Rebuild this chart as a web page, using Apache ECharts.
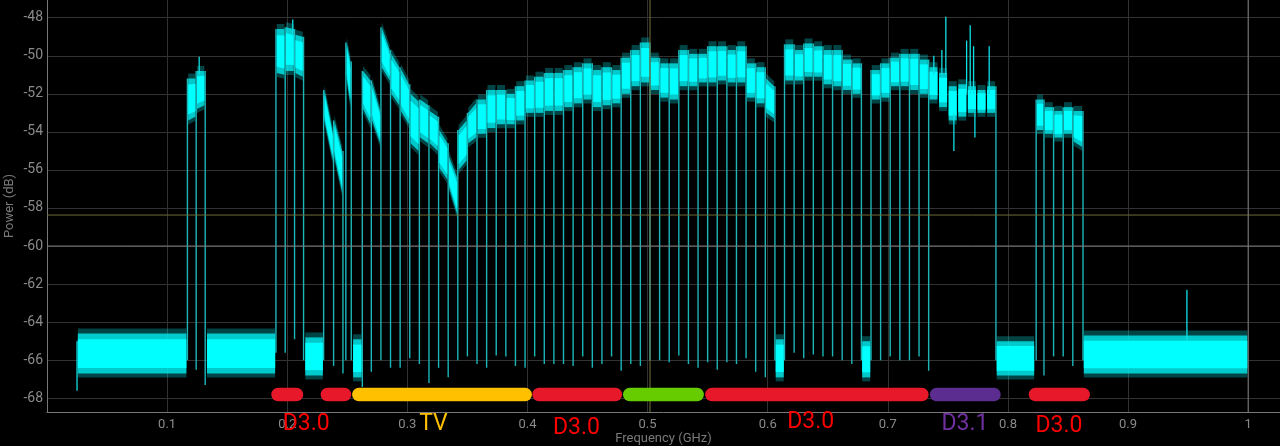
<!DOCTYPE html>
<html><head><meta charset="utf-8">
<script src="https://cdn.jsdelivr.net/npm/echarts@6/dist/echarts.min.js"></script>
<style>html,body{margin:0;padding:0;background:#000;overflow:hidden}#c{width:1280px;height:446px}</style>
</head><body><div id="c"></div>
<script>
// ---------------- DATA ----------------
// noise floor stretches: [fStart GHz, fEnd GHz, top dB, bottom dB]
const noiseFloor = [
  [0.025, 0.1167, -64.6, -66.7],
  [0.1325, 0.1906, -64.6, -66.7],
  [0.2144, 0.2303, -64.8, -66.8],
  [0.2542, 0.2625, -64.9, -66.9],
  [0.606, 0.614, -64.9, -66.9],
  [0.678, 0.686, -65.0, -66.9],
  [0.790, 0.8225, -65.0, -66.8],
  [0.8625, 1.0, -64.7, -66.7]
];
// carriers: [fStart, fEnd, top at start, top at end, bottom at start, bottom at end] (dB)
const carriers = [
  [0.1169, 0.1242, -51.2, -51.2, -53.4, -53.2],
  [0.1242, 0.1317, -50.8, -50.8, -52.8, -52.6],
  [0.1906, 0.1983, -48.6, -48.6, -50.9, -51.0],
  [0.1983, 0.2061, -48.5, -48.6, -50.8, -50.8],
  [0.2061, 0.2136, -48.9, -49.0, -50.9, -51.1],
  [0.2303, 0.2386, -51.8, -54.0, -53.4, -55.5],
  [0.2386, 0.2464, -53.4, -55.0, -55.3, -57.2],
  [0.2488, 0.2533, -49.3, -50.3, -51.2, -52.6],
  [0.2625, 0.270, -50.8, -51.3, -52.8, -53.6],
  [0.270, 0.278, -51.4, -52.9, -53.4, -54.6],
  [0.278, 0.286, -48.5, -49.7, -50.6, -51.3],
  [0.286, 0.294, -49.9, -50.6, -52.0, -52.6],
  [0.294, 0.302, -50.7, -51.5, -52.9, -53.6],
  [0.302, 0.310, -52.0, -52.4, -54.6, -55.0],
  [0.310, 0.318, -52.3, -52.6, -54.3, -54.6],
  [0.318, 0.326, -52.9, -53.2, -54.6, -55.0],
  [0.326, 0.334, -53.9, -54.6, -55.9, -56.5],
  [0.334, 0.342, -55.3, -56.4, -56.9, -58.3],
  [0.342, 0.350, -53.9, -53.4, -56.0, -55.5],
  [0.350, 0.358, -53.0, -52.5, -54.6, -54.3],
  [0.358, 0.366, -52.3, -52.3, -54.1, -54.1],
  [0.366, 0.374, -51.8, -51.8, -53.8, -53.8],
  [0.374, 0.382, -51.8, -51.8, -53.6, -53.6],
  [0.382, 0.390, -52.0, -52.0, -53.6, -53.6],
  [0.390, 0.398, -51.6, -51.6, -53.4, -53.4],
  [0.398, 0.406, -51.3, -51.3, -53.0, -53.0],
  [0.406, 0.414, -51.1, -51.1, -53.0, -53.0],
  [0.414, 0.422, -50.9, -50.9, -52.9, -52.9],
  [0.422, 0.430, -50.9, -50.9, -52.9, -52.9],
  [0.430, 0.438, -50.75, -50.75, -52.7, -52.7],
  [0.438, 0.446, -50.6, -50.6, -52.5, -52.5],
  [0.446, 0.454, -50.4, -50.4, -52.3, -52.3],
  [0.454, 0.462, -50.75, -50.75, -52.7, -52.7],
  [0.462, 0.470, -50.6, -50.6, -52.6, -52.6],
  [0.470, 0.478, -50.75, -50.75, -52.5, -52.5],
  [0.478, 0.486, -50.1, -50.1, -52.0, -52.0],
  [0.486, 0.494, -49.7, -49.7, -51.6, -51.6],
  [0.494, 0.502, -49.3, -49.3, -51.4, -51.4],
  [0.502, 0.510, -50.1, -50.1, -51.8, -51.8],
  [0.510, 0.518, -50.4, -50.4, -52.2, -52.2],
  [0.518, 0.526, -50.4, -50.4, -52.3, -52.3],
  [0.526, 0.534, -49.7, -49.7, -51.6, -51.6],
  [0.534, 0.542, -49.9, -49.9, -51.6, -51.6],
  [0.542, 0.550, -49.9, -49.9, -51.4, -51.4],
  [0.550, 0.558, -49.5, -49.5, -51.4, -51.4],
  [0.558, 0.566, -49.5, -49.5, -51.3, -51.3],
  [0.566, 0.574, -49.7, -49.7, -51.4, -51.4],
  [0.574, 0.582, -49.5, -49.5, -51.4, -51.4],
  [0.582, 0.590, -50.4, -50.4, -52.2, -52.2],
  [0.590, 0.598, -50.6, -50.6, -52.5, -52.5],
  [0.598, 0.606, -51.2, -51.6, -53.0, -53.3],
  [0.614, 0.622, -49.4, -49.4, -51.3, -51.3],
  [0.622, 0.630, -49.7, -49.7, -51.3, -51.3],
  [0.630, 0.638, -49.35, -49.35, -51.1, -51.1],
  [0.638, 0.646, -49.5, -49.5, -51.1, -51.1],
  [0.646, 0.654, -49.7, -49.7, -51.5, -51.5],
  [0.654, 0.662, -49.7, -49.7, -51.6, -51.6],
  [0.662, 0.670, -50.2, -50.2, -51.8, -51.8],
  [0.670, 0.678, -50.4, -50.4, -52.0, -52.0],
  [0.686, 0.694, -50.75, -50.75, -52.3, -52.3],
  [0.694, 0.702, -50.4, -50.4, -52.2, -52.2],
  [0.702, 0.710, -50.1, -50.1, -51.6, -51.6],
  [0.710, 0.718, -49.9, -49.9, -51.6, -51.6],
  [0.718, 0.726, -49.9, -49.9, -51.8, -51.8],
  [0.726, 0.734, -50.2, -50.2, -52.0, -52.0],
  [0.734, 0.742, -50.6, -50.6, -52.3, -52.3],
  [0.742, 0.750, -50.9, -50.9, -52.7, -52.7],
  [0.750, 0.758, -51.6, -51.6, -53.4, -53.4],
  [0.758, 0.766, -51.5, -51.5, -53.2, -53.2],
  [0.766, 0.774, -51.6, -51.6, -53.0, -53.0],
  [0.774, 0.782, -51.8, -51.8, -53.0, -53.0],
  [0.782, 0.790, -51.6, -51.6, -53.0, -53.0],
  [0.8235, 0.830, -52.3, -52.3, -53.9, -53.9],
  [0.830, 0.838, -52.7, -52.7, -54.1, -54.1],
  [0.838, 0.846, -52.9, -52.9, -54.3, -54.3],
  [0.846, 0.854, -52.7, -52.7, -54.1, -54.1],
  [0.854, 0.8625, -52.9, -52.9, -54.5, -54.8]
];
// gaps between carriers: [freq GHz, lowest dB reached]
const dips = [
  [0.1169,-66.0],[0.1242,-66.5],[0.1317,-67.3],
  [0.1906,-65.6],[0.1983,-65.6],[0.2061,-64.9],[0.2136,-66.0],
  [0.2303,-66.0],[0.2386,-66.3],[0.2464,-66.7],[0.2488,-66.0],[0.2533,-66.0],
  [0.2625,-67.4],[0.270,-66.6],[0.278,-66.0],[0.286,-66.4],[0.294,-66.4],[0.302,-65.9],
  [0.310,-66.2],[0.318,-67.2],[0.326,-66.4],[0.334,-66.9],[0.342,-66.0],[0.350,-65.8],
  [0.358,-66.2],[0.366,-66.4],[0.374,-65.75],[0.382,-65.8],[0.390,-66.3],[0.398,-66.4],
  [0.406,-65.8],[0.414,-66.2],[0.422,-66.2],[0.430,-66.2],[0.438,-66.3],[0.446,-65.8],
  [0.454,-66.4],[0.462,-66.2],[0.470,-65.8],[0.478,-66.55],[0.486,-66.2],[0.494,-66.3],
  [0.502,-66.0],[0.510,-66.0],[0.518,-66.1],[0.526,-65.75],[0.534,-66.2],[0.542,-66.4],
  [0.550,-66.1],[0.558,-66.5],[0.566,-66.1],[0.574,-66.2],[0.582,-65.9],[0.590,-66.6],
  [0.598,-66.9],[0.606,-66.0],
  [0.614,-66.0],[0.622,-65.6],[0.630,-65.9],[0.638,-65.7],[0.646,-65.8],[0.654,-65.8],
  [0.662,-66.0],[0.670,-66.2],[0.678,-66.0],
  [0.686,-66.0],[0.694,-66.0],[0.702,-65.8],[0.710,-66.0],[0.718,-66.0],[0.726,-65.8],
  [0.734,-66.55],[0.790,-66.0],
  [0.8235,-66.0],[0.830,-66.8],[0.838,-65.8],[0.846,-65.8],[0.854,-66.3],[0.8625,-66.0]
];
// isolated spikes: [freq GHz, top dB, bottom dB]
const spikes = [
  [0.1267, -50.05, -51.0], [0.2046, -48.1, -49.0],
  [0.7383, -50.0, -51.0], [0.7450, -49.7, -51.0], [0.7483, -47.95, -51.0],
  [0.7656, -49.2, -52.0], [0.7686, -48.4, -52.0], [0.7714, -49.5, -52.0],
  [0.7844, -49.5, -52.0], [0.7550, -53.0, -55.0], [0.7725, -53.0, -54.3],
  [0.9490, -62.3, -65.0], [0.0250, -65.0, -67.6]
];
// service bands under the spectrum: [fStart, fEnd, kind]
const bandSegments = [
  [0.1867, 0.2133, 'D3.0'], [0.2278, 0.2533, 'D3.0'], [0.2540, 0.4037, 'TV'],
  [0.4040, 0.4788, 'D3.0'], [0.4795, 0.5469, 'other'], [0.5479, 0.7340, 'D3.0'],
  [0.7350, 0.7940, 'D3.1'], [0.8173, 0.8683, 'D3.0']
];
// band captions: [centre freq, text]
const bandLabels = [
  [0.2158, 'D3.0'], [0.3217, 'TV'], [0.4408, 'D3.0'],
  [0.6358, 'D3.0'], [0.7642, 'D3.1'], [0.8425, 'D3.0']
];
const levelMarkers = [-58.37, -60];
const freqMarkers = [0.502, 1.0];
const xTickStep = 0.1;
const yTickStep = 2;

// ---------------- STYLE ----------------
const kindColor = { 'D3.0': '#e8182b', 'TV': '#ffc000', 'other': '#66cc00', 'D3.1': '#5c2d91' };
const textColor = { 'D3.0': '#ff0000', 'TV': '#ffc000', 'D3.1': '#7030a0' };
const labelDy = [12, 12, 16, 10, 12, 14];
const barLevel = -67.8, barHeight = 13.5;
const levelMarkerColor = ['#6e6b3a', '#7c7c7c'];
const freqMarkerColor = ['#77743e', '#7c7c7c'];

// ---------------- BUILD ----------------
const allBands = noiseFloor.map(n => [n[0], n[1], n[2], n[2], n[3], n[3]]).concat(carriers);
const dipData = dips.map(d => {
  let top = d[1];
  carriers.forEach(c => {
    if (Math.abs(c[0] - d[0]) < 0.0012) top = Math.max(top, c[2]);
    if (Math.abs(c[1] - d[0]) < 0.0012) top = Math.max(top, c[3]);
  });
  return [d[0], d[1], top];
});

function bandItem(params, api) {
  const f0 = api.value(0), f1 = api.value(1);
  const tL = api.coord([f0, api.value(2)]), tR = api.coord([f1, api.value(3)]);
  const bR = api.coord([f1, api.value(5)]), bL = api.coord([f0, api.value(4)]);
  const ins = 0.8;
  tL[0] += ins; bL[0] += ins; tR[0] -= ins; bR[0] -= ins;
  const mix = (a, b, t) => [a[0] + (b[0] - a[0]) * t, a[1] + (b[1] - a[1]) * t];
  const up = (p, d) => [p[0], p[1] + d];
  return { type: 'group', children: [
    { type: 'polygon', shape: { points: [up(tL, -5), up(tR, -5), up(bR, 4), up(bL, 4)] }, style: { fill: 'rgba(0,210,215,0.32)' } },
    { type: 'polygon', shape: { points: [tL, tR, bR, bL] }, style: { fill: 'rgba(0,235,238,0.8)' } },
    { type: 'polygon', shape: { points: [mix(tL, bL, 0.14), mix(tR, bR, 0.14), mix(tR, bR, 0.86), mix(tL, bL, 0.86)] }, style: { fill: '#00ffff' } }
  ] };
}
function vline(color, width) {
  return function (params, api) {
    const a = api.coord([api.value(0), api.value(1)]);
    const b = api.coord([api.value(0), api.value(2)]);
    return { type: 'line', shape: { x1: a[0], y1: a[1], x2: b[0], y2: b[1] }, style: { stroke: color, lineWidth: width } };
  };
}

const chart = echarts.init(document.getElementById('c'), null, { renderer: 'canvas' });
chart.setOption({
  backgroundColor: '#000',
  animation: false,
  grid: { left: 47, right: 0, top: 0, bottom: 34, containLabel: false, outerBoundsMode: 'none' },
  xAxis: {
    type: 'value', min: 0, max: 1.0265, interval: xTickStep,
    axisLine: { lineStyle: { color: '#787878', width: 1 } },
    axisTick: { show: false },
    axisLabel: { color: '#8a8a8a', fontSize: 13, fontFamily: 'Roboto', margin: 6, showMinLabel: false, showMaxLabel: false },
    splitLine: { show: true, showMinLine: false, showMaxLine: false, lineStyle: { color: '#323232', width: 1 } },
    name: 'Frequency (GHz)', nameLocation: 'middle', nameGap: 20, nameMoveOverlap: false,
    nameTextStyle: { color: '#7a7a7a', fontSize: 13, fontFamily: 'Roboto' }
  },
  yAxis: {
    type: 'value', min: -68.72, max: -47.07, splitNumber: 11, minInterval: yTickStep, maxInterval: yTickStep,
    axisLine: { show: true, lineStyle: { color: '#787878', width: 1 } },
    axisTick: { show: false },
    axisLabel: { color: '#8a8a8a', fontSize: 14, fontFamily: 'Roboto', margin: 4, showMinLabel: false, showMaxLabel: false },
    splitLine: { show: true, showMinLine: false, showMaxLine: false, lineStyle: { color: '#323232', width: 1 } },
    name: 'Power (dB)', nameLocation: 'middle', nameGap: 31, nameMoveOverlap: false,
    nameTextStyle: { color: '#7a7a7a', fontSize: 13, fontFamily: 'Roboto' }
  },
  series: [
    { type: 'custom', name: 'dips', z: 1, data: dipData, renderItem: vline('#1cb6b9', 1.4), encode: { x: 0, y: [1, 2] } },
    { type: 'custom', name: 'spectrum', z: 2, data: allBands, renderItem: bandItem, encode: { x: [0, 1], y: [2, 3, 4, 5] } },
    { type: 'custom', name: 'spikes', z: 3, data: spikes, renderItem: vline('#10e0e4', 1.3), encode: { x: 0, y: [1, 2] } },
    { type: 'custom', name: 'levelMarkers', z: 4, data: levelMarkers.map(v => [v]),
      renderItem: function (params, api) {
        const cs = params.coordSys; const y = api.coord([0, api.value(0)])[1];
        return { type: 'line', shape: { x1: cs.x, y1: y, x2: cs.x + cs.width, y2: y }, style: { stroke: levelMarkerColor[params.dataIndex], lineWidth: 1 } };
      }, encode: { y: 0 } },
    { type: 'custom', name: 'freqMarkers', z: 4, data: freqMarkers.map(v => [v]),
      renderItem: function (params, api) {
        const cs = params.coordSys; const x = api.coord([api.value(0), -60])[0];
        return { type: 'line', shape: { x1: x, y1: cs.y, x2: x, y2: cs.y + cs.height }, style: { stroke: freqMarkerColor[params.dataIndex], lineWidth: 1 } };
      }, encode: { x: 0 } },
    { type: 'custom', name: 'bands', z: 5, data: bandSegments.map(b => [b[0], b[1]]),
      renderItem: function (params, api) {
        const a = api.coord([api.value(0), barLevel]), b = api.coord([api.value(1), barLevel]);
        const k = bandSegments[params.dataIndex][2];
        return { type: 'rect', shape: { x: a[0], y: a[1] - barHeight / 2, width: b[0] - a[0], height: barHeight, r: barHeight / 2 }, style: { fill: kindColor[k] } };
      }, encode: { x: [0, 1] } },
    { type: 'custom', name: 'labels', z: 6, clip: false, data: bandLabels.map(l => [l[0]]),
      renderItem: function (params, api) {
        const p = api.coord([api.value(0), -68.72]);
        const lab = bandLabels[params.dataIndex];
        return { type: 'text', x: p[0], y: p[1] + labelDy[params.dataIndex],
          style: { text: lab[1], fill: textColor[lab[1]], font: '23px Roboto, "Noto Sans", sans-serif', align: 'center', verticalAlign: 'middle' } };
      }, encode: { x: 0 } }
  ]
});
</script>
</body></html>
